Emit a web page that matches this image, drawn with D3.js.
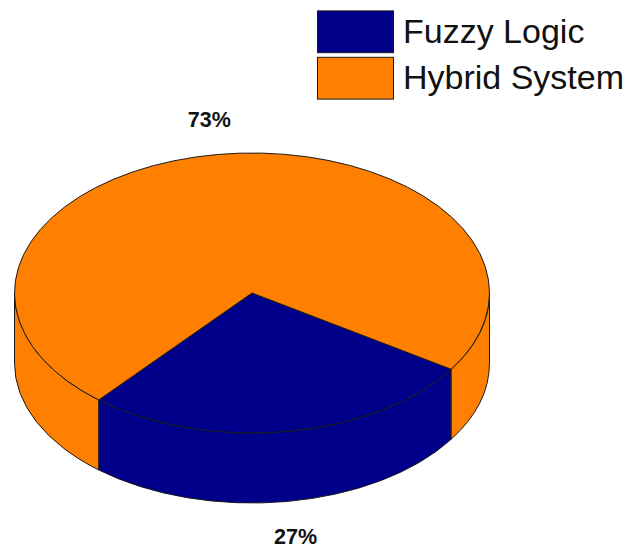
<!DOCTYPE html>
<html>
<head>
<meta charset="utf-8">
<script src="https://d3js.org/d3.v7.min.js"></script>
<style>
  html, body { margin: 0; padding: 0; background: #fff; }
  svg { display: block; }
</style>
</head>
<body>
<svg id="mainsvg" width="639" height="549"></svg>
<script>
const categories = ['Fuzzy Logic', 'Hybrid System'];
const shares = [27, 73];
const colors = ['#00008b', '#ff8000'];

const svg = d3.select('#mainsvg');
const cx = 252, cy = 293;
const rx = 237.5, ry = 140, depth = 70;
const stroke = '#1a1a1a';
const startAngle = 123 * Math.PI / 180;

const color = d3.scaleOrdinal().domain(categories).range(colors);

const arcs = d3.pie()
  .sort(null)
  .value(d => d.share)
  .startAngle(startAngle)
  .endAngle(startAngle + 2 * Math.PI)(categories.map((name, i) => ({ name, share: shares[i] })));

const px = a => cx + rx * Math.sin(a);
const py = a => cy - ry * Math.cos(a);

// only the front half of the rim can be seen (90deg to 270deg, and again one turn later)
const walls = [];
arcs.forEach(d => {
  [0, 2 * Math.PI].forEach(turn => {
    const a0 = Math.max(d.startAngle, Math.PI / 2 + turn);
    const a1 = Math.min(d.endAngle, 3 * Math.PI / 2 + turn);
    if (a1 > a0) walls.push({ name: d.data.name, a0, a1 });
  });
});

const wallPath = d => `M${px(d.a0)},${py(d.a0)}`
  + `A${rx},${ry} 0 0 1 ${px(d.a1)},${py(d.a1)}`
  + `L${px(d.a1)},${py(d.a1) + depth}`
  + `A${rx},${ry} 0 0 0 ${px(d.a0)},${py(d.a0) + depth}Z`;

svg.append('g').selectAll('path')
  .data(walls)
  .join('path')
  .attr('d', wallPath)
  .attr('fill', d => color(d.name))
  .attr('stroke', stroke)
  .attr('stroke-width', 1);

const arc = d3.arc().innerRadius(0).outerRadius(rx);

svg.append('g')
  .attr('transform', `translate(${cx},${cy}) scale(1,${ry / rx})`)
  .selectAll('path')
  .data(arcs)
  .join('path')
  .attr('d', arc)
  .attr('fill', d => color(d.data.name))
  .attr('stroke', stroke)
  .attr('stroke-width', 1)
  .attr('vector-effect', 'non-scaling-stroke');

// percent labels, pushed out along the middle of each slice
const labelR = 1.2;
svg.append('g').selectAll('text')
  .data(arcs)
  .join('text')
  .attr('x', d => cx + labelR * rx * Math.sin((d.startAngle + d.endAngle) / 2))
  .attr('y', d => {
    const c = Math.cos((d.startAngle + d.endAngle) / 2);
    return cy - labelR * ry * c + (c < 0 ? depth + 15 : 0);
  })
  .attr('dx', d => Math.cos((d.startAngle + d.endAngle) / 2) < 0 ? 2 : -1)
  .attr('text-anchor', 'middle')
  .attr('font-family', '"Liberation Sans", Arial, sans-serif')
  .attr('font-weight', 'bold')
  .attr('font-size', 21.5)
  .attr('fill', '#111')
  .text(d => d.data.share + '%');

// legend
const legendY = d3.scaleBand().domain(categories).range([9, 100]).paddingInner(0.1).paddingOuter(0.03);
const legend = svg.append('g').selectAll('g')
  .data(categories)
  .join('g')
  .attr('transform', d => `translate(317,${legendY(d)})`);

legend.append('rect')
  .attr('x', 0.5)
  .attr('y', 0.5)
  .attr('width', 76)
  .attr('height', legendY.bandwidth())
  .attr('fill', d => color(d))
  .attr('stroke', stroke)
  .attr('stroke-width', 1);

legend.append('text')
  .attr('x', 86)
  .attr('y', 32.5)
  .attr('font-family', '"Liberation Sans", Arial, sans-serif')
  .attr('font-size', 34)
  .attr('fill', '#111')
  .text(d => d);
</script>
</body>
</html>
